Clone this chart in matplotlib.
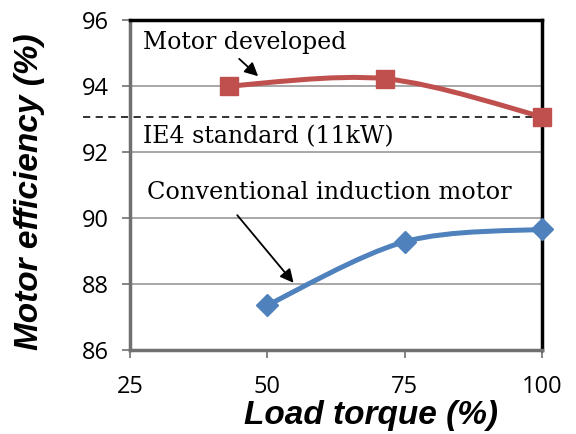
import matplotlib
matplotlib.use("Agg")
import matplotlib.pyplot as plt
from matplotlib.path import Path
from matplotlib.patches import PathPatch
import numpy as np

# data
dev_x = [43, 71.5, 100]
dev_y = [94.0, 94.22, 93.07]
conv_x = [50, 75, 100]
conv_y = [87.36, 89.28, 89.66]
ie4_level = 93.07
x_ticks = [25, 50, 75, 100]
y_ticks = [86, 88, 90, 92, 94, 96]

red = '#C0504D'
blue = '#4F81BD'


def smooth_path(xs, ys):
    # Catmull-Rom style bezier through the points (like Excel smoothed line)
    pts = np.column_stack([xs, ys]).astype(float)
    verts = [pts[0]]
    codes = [Path.MOVETO]
    n = len(pts)
    for i in range(n - 1):
        p0 = pts[i - 1] if i > 0 else pts[i]
        p1 = pts[i]
        p2 = pts[i + 1]
        p3 = pts[i + 2] if i + 2 < n else pts[i + 1]
        c1 = p1 + (p2 - p0) / 6.0
        c2 = p2 - (p3 - p1) / 6.0
        verts += [c1, c2, p2]
        codes += [Path.CURVE4] * 3
    return Path(verts, codes)


fig = plt.figure(figsize=(5.76, 4.34), dpi=100)
ax = fig.add_axes([130 / 576, 1 - 350 / 434, 412 / 576, 330 / 434])

ax.set_xlim(25, 100)
ax.set_ylim(86, 96)
ax.set_xticks(x_ticks)
ax.set_yticks(y_ticks)
ax.yaxis.grid(True, color='#a0a0a0', lw=1.3)
ax.set_axisbelow(True)

ax.add_patch(PathPatch(smooth_path(dev_x, dev_y), fill=False, ec=red, lw=3.6, zorder=3))
ax.plot(dev_x, dev_y, ls='none', marker='s', ms=13, color=red, zorder=4, clip_on=False)
ax.add_patch(PathPatch(smooth_path(conv_x, conv_y), fill=False, ec=blue, lw=3.6, zorder=3))
ax.plot(conv_x, conv_y, ls='none', marker='D', ms=11, color=blue, zorder=4, clip_on=False)

# IE4 dashed line, reaches left of the axis
ax.plot([16.5, 100], [ie4_level, ie4_level], ls='--', color='#222222', lw=1.3,
        dashes=(4, 3), clip_on=False, zorder=2)

serif = 'DejaVu Serif'
ax.text(27.4, 95.33, 'Motor developed', family=serif, fontsize=17, va='center', ha='left')
ax.text(27.4, 92.45, 'IE4 standard (11kW)', family=serif, fontsize=17, va='center', ha='left')
ax.text(28.1, 90.76, 'Conventional induction motor', family=serif, fontsize=17.3, va='center', ha='left')
ax.annotate('', xy=(48.7, 94.24), xytext=(44.5, 94.88),
            arrowprops=dict(arrowstyle='-|>', color='black', lw=1.3, mutation_scale=20))
ax.annotate('', xy=(55.1, 87.97), xytext=(44.2, 90.15),
            arrowprops=dict(arrowstyle='-|>', color='black', lw=1.3, mutation_scale=20))

for s in ['top', 'right']:
    ax.spines[s].set_color('black')
    ax.spines[s].set_linewidth(2.5)
for s in ['left', 'bottom']:
    ax.spines[s].set_color('#707070')
    ax.spines[s].set_linewidth(2.5)

ax.tick_params(axis='both', labelsize=17, color='#707070', width=1.2, length=6, pad=9)
ax.tick_params(axis='x', pad=12)
for lab in ax.get_xticklabels() + ax.get_yticklabels():
    lab.set_family('Open Sans')

ax.set_xlabel('Load torque (%)', family='Liberation Sans', fontsize=24,
              fontweight='bold', style='italic', va='center')
ax.set_ylabel('Motor efficiency (%)', family='Liberation Sans', fontsize=24,
              fontweight='bold', style='italic', va='center')
ax.xaxis.set_label_coords(0.585, -0.197)
ax.yaxis.set_label_coords(-0.243, 0.479)

plt.savefig('out.png', dpi=100)
